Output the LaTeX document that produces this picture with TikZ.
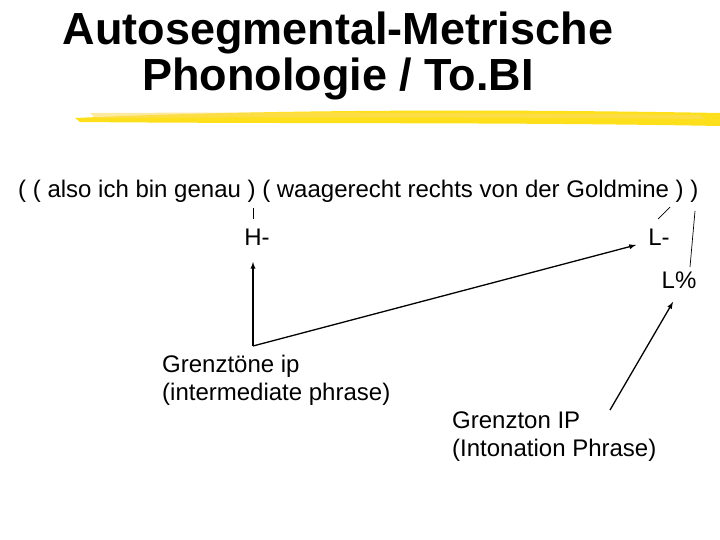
\documentclass[tikz,border=0pt]{standalone}
\usepackage{fontspec}
\setmainfont{Liberation Sans}
\begin{document}
\begin{tikzpicture}[x=1pt,y=-1pt,
  txt/.style={inner sep=0pt,font=\fontsize{24}{28}\selectfont},
  ttl/.style={inner sep=0pt,font=\fontsize{45}{46}\selectfont\bfseries},
  thin/.style={line width=0.7pt},
  arr/.style={line width=1.3pt,-latex}]
\useasboundingbox (0,0) rectangle (720,540);
\fill[white] (0,0) rectangle (720,540);
% brush stroke
\fill[yellow!80!orange!90!white] (75,118) .. controls (300,108) and (550,110) .. (720,113) -- (720,126) .. controls (500,122) and (300,124) .. (80,122) -- cycle;
\fill[yellow!60!orange!60!white,opacity=0.6] (90,113) .. controls (300,112) and (500,113) .. (700,115) -- (705,119) .. controls (500,117) and (300,117) .. (95,118) -- cycle;
\node[ttl] (t1) at (338,33) {Autosegmental-Metrische};
\node[ttl] (t2) at (338,79) {Phonologie / To.BI};
\node[txt,anchor=west] (line) at (18,191) {( ( also ich bin genau ) ( waagerecht rechts von der Goldmine ) )};
\node[txt] (H) at (257,237) {H-};
\node[txt] (L) at (659,237) {L-};
\node[txt] (Lp) at (679,280) {L\%};
\node[txt,anchor=north west,align=left] (ip) at (162,355) {Grenztöne ip\\(intermediate phrase)};
\node[txt,anchor=north west,align=left] (IP) at (452,412) {Grenzton IP\\(Intonation Phrase)};
\coordinate (a1) at (253,208); \coordinate (a2) at (253,219);
\coordinate (b1) at (670,207); \coordinate (b2) at (658,219);
\coordinate (c1) at (695,211); \coordinate (c2) at (690,267);
\coordinate (o) at (253,346);
\coordinate (hu) at (253,262);
\coordinate (le) at (636,245);
\coordinate (s) at (610,410);
\coordinate (pe) at (673,302);
\draw[thin] (a1) -- (a2);
\draw[thin] (b1) -- (b2);
\draw[thin] (c1) -- (c2);
\draw[arr] (o) -- (hu);
\draw[arr] (o) -- (le);
\draw[arr] (s) -- (pe);
\end{tikzpicture}
\end{document}
